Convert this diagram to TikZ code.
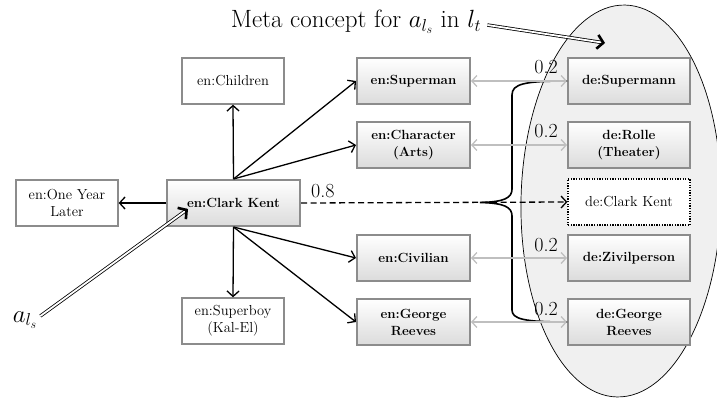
\documentclass[tikz,border=0pt]{standalone}
\usetikzlibrary{arrows.meta,calc}
\begin{document}
\begin{tikzpicture}[x=1pt,y=-1pt,
  base/.style={rectangle, minimum height=46pt, align=center, inner sep=2pt},
  plainbox/.style={base, draw=black!45, line width=1.3pt, fill=white, minimum width=102pt, font=\fontsize{14.5}{17}\selectfont},
  enbox/.style={base, draw=black!45, line width=2pt, top color=white, bottom color=black!14, minimum width=113pt, font=\fontsize{13.3}{17}\selectfont\bfseries},
  debox/.style={enbox, minimum width=122pt},
  dotbox/.style={base, draw=black, line width=1.2pt, dash pattern=on 1.3pt off 1.3pt, fill=white, minimum width=122pt, font=\fontsize{14.5}{17}\selectfont},
  lbl/.style={inner sep=0pt, font=\fontsize{20}{24}\selectfont},
  arr/.style={line width=1.3pt, -{Straight Barb[length=5.5pt,width=12pt]}},
  dasharr/.style={arr, dash pattern=on 6pt off 3.5pt},
  grayarr/.style={line width=1.3pt, draw=black!25, {Straight Barb[length=5pt,width=11pt]}-{Straight Barb[length=5pt,width=11pt]}},
  bracestyle/.style={line width=1.6pt},
  dblline/.style={double, double distance=1.8pt, line width=0.8pt},
  bigtip/.style={line width=2.6pt, -{Straight Barb[length=6pt,width=14pt]}}
]
\useasboundingbox (0,0) rectangle (717,398);
% meta concept ellipse
\draw[fill=black!6, line width=0.7pt, rotate around={-1.2:(621,201)}] (621,201) ellipse [x radius=100, y radius=196];

% nodes
\node[plainbox] (children) at (233,81) {en:Children};
\node[plainbox] (oneyear) at (67,203) {en:One Year\\Later};
\node[enbox, minimum width=133pt] (ck) at (233.5,203) {en:Clark Kent};
\node[plainbox] (superboy) at (233,321) {en:Superboy\\(Kal-El)};
\node[enbox] (superman) at (413.5,81) {en:Superman};
\node[enbox] (character) at (413.5,145) {en:Character\\(Arts)};
\node[enbox] (civilian) at (413.5,258) {en:Civilian};
\node[enbox] (georgeen) at (413.5,322) {en:George\\Reeves};
\node[debox] (supermann) at (629,81) {de:Supermann};
\node[debox] (rolle) at (629,145) {de:Rolle\\(Theater)};
\node[dotbox] (declark) at (629,202) {de:Clark Kent};
\node[debox] (zivil) at (629,258) {de:Zivilperson};
\node[debox] (georgede) at (629,322) {de:George\\Reeves};

% arrows from en:Clark Kent
\draw[arr] (ck.north) -- (children.south);
\draw[arr] (ck.north) -- (superman.west);
\draw[arr] (ck.north) -- (character.west);
\draw[arr] (ck.south) -- (superboy.north);
\draw[arr] (ck.south) -- (civilian.west);
\draw[arr] (ck.south) -- (georgeen.west);
\draw[arr] (ck.west) -- (oneyear.east);
\draw[dasharr] (ck.east) -- (declark.west);
\node[lbl, anchor=base west] (l08) at ([xshift=10pt,yshift=6pt]ck.east) {0.8};

% brace
\coordinate (bracetip) at (480,202.5);
\draw[bracestyle] (supermann.west) .. controls (524,81) and (512,84) .. (512,95) -- (512,189)
  .. controls (512,198) and (504,202) .. (bracetip)
  .. controls (504,203) and (512,207) .. (512,216) -- (512,310)
  .. controls (512,319) and (524,322) .. (georgede.west);

% gray links
\draw[grayarr] (superman.east) -- (supermann.west);
\draw[grayarr] (character.east) -- (rolle.west);
\draw[grayarr] (civilian.east) -- (zivil.west);
\draw[grayarr] (georgeen.east) -- (georgede.west);
\node[lbl, anchor=base east] (w1) at ([xshift=-9pt,yshift=7pt]supermann.west) {0.2};
\node[lbl, anchor=base east] (w2) at ([xshift=-9pt,yshift=7pt]rolle.west) {0.2};
\node[lbl, anchor=base east] (w3) at ([xshift=-9pt,yshift=7pt]zivil.west) {0.2};
\node[lbl, anchor=base east] (w4) at ([xshift=-9pt,yshift=7pt]georgede.west) {0.2};

% meta concept label
\node[lbl, font=\fontsize{25}{30}\selectfont] (meta) at (356,22) {Meta concept for $a_{l_s}$ in $l_t$};
\coordinate (metatip) at (605,43);
\coordinate (metastart) at ([xshift=6pt,yshift=-3pt]meta.east);
\draw[dblline] (metastart) -- ($(metatip)!2pt!(metastart)$);
\draw[bigtip] ($(metatip)!1pt!(metastart)$) -- (metatip);

% a_ls label
\node[lbl, font=\fontsize{24}{28}\selectfont] (als) at (25,320) {$a_{l_s}$};
\coordinate (cktip) at ([xshift=22pt,yshift=-6pt]ck.west);
\coordinate (alsstart) at ([xshift=3pt,yshift=4pt]als.east);
\draw[dblline] (alsstart) -- ($(cktip)!2pt!(alsstart)$);
\draw[bigtip] ($(cktip)!1pt!(alsstart)$) -- (cktip);
\end{tikzpicture}
\end{document}
